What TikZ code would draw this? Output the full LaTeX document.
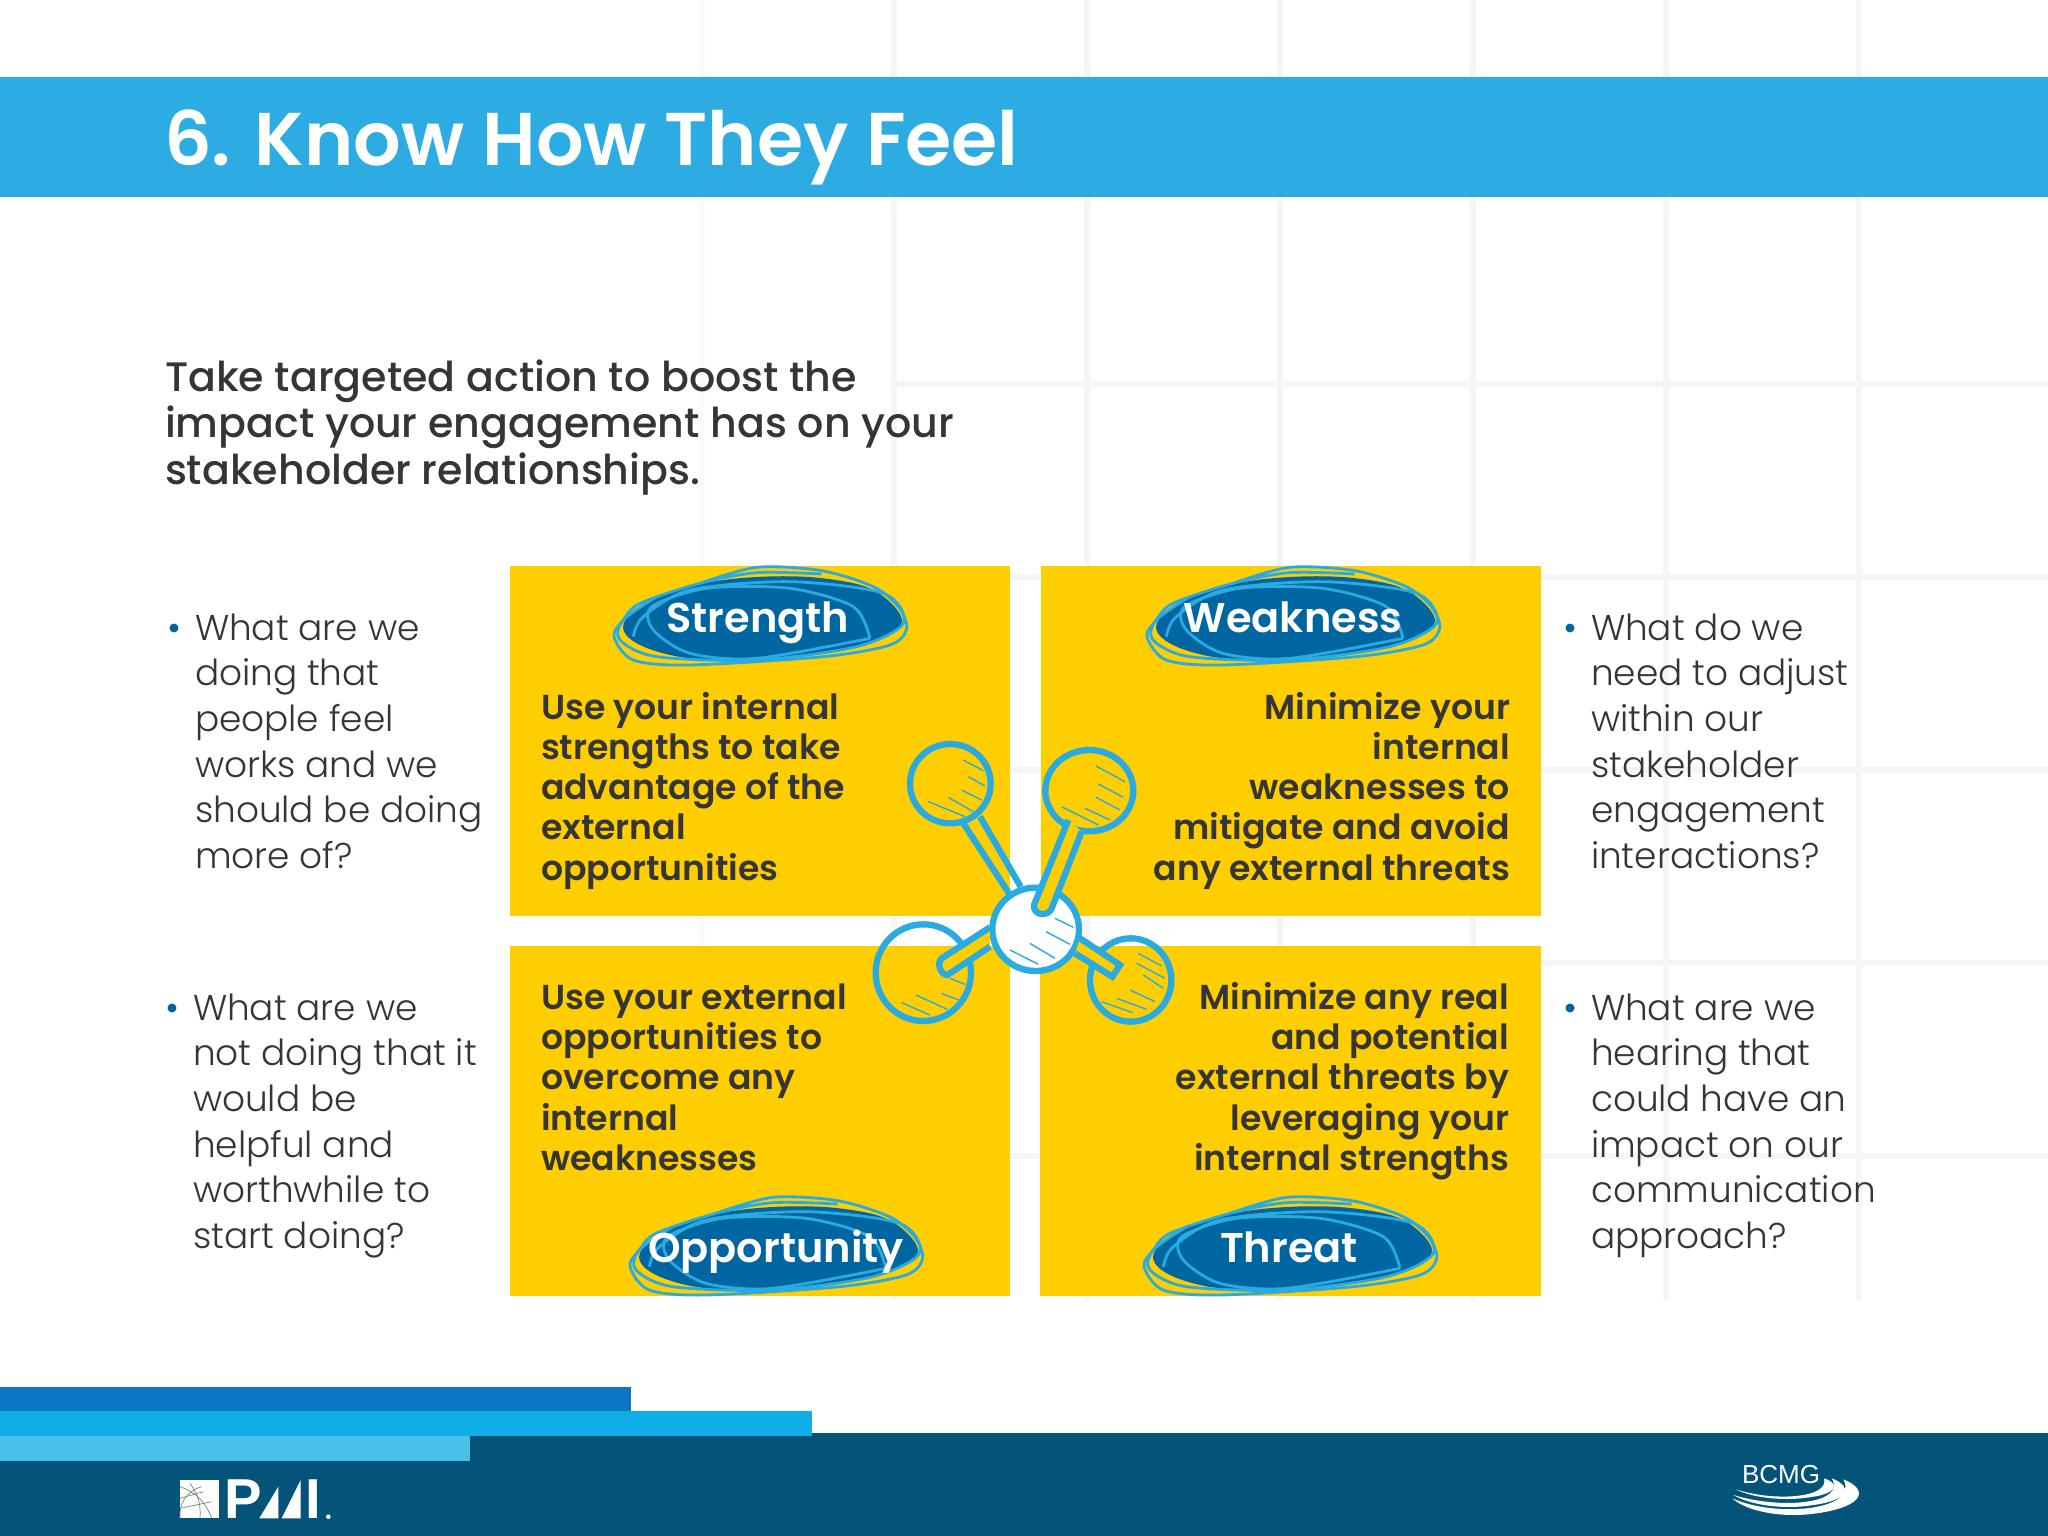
\documentclass[tikz,border=0pt]{standalone}
\usepackage{fontspec}
\setmainfont{Poppins Light}
\newfontfamily\mediumfont{Poppins Medium}
\newfontfamily\semifont{Poppins SemiBold}
\setsansfont{Liberation Sans}
\usetikzlibrary{arrows,positioning}
\definecolor{bandblue}{HTML}{2DABE3}
\definecolor{footblue}{HTML}{04547A}
\definecolor{barone}{HTML}{0A76C4}
\definecolor{bartwo}{HTML}{0EAEE6}
\definecolor{barthree}{HTML}{4AC0E8}
\definecolor{boxyellow}{HTML}{FFCE00}
\definecolor{inkblue}{HTML}{29ABE2}
\definecolor{blobblue}{HTML}{0066A1}
\definecolor{gridgrey}{HTML}{F3F5F8}
\definecolor{textgrey}{HTML}{353535}
\tikzset{every node/.append style={inner sep=0pt,outer sep=0pt}}
\tikzset{gridline/.style={gridgrey,line width=1.6pt}}
\tikzset{bodytext/.style={anchor=base west,align=left,text=textgrey,font=\fontsize{10.2}{12.94}\selectfont}}
\tikzset{boxleft/.style={anchor=base west,align=left,text=textgrey,font=\semifont\fontsize{9.85}{11.38}\selectfont}}
\tikzset{boxright/.style={anchor=base east,align=right,text=textgrey,font=\semifont\fontsize{9.85}{11.38}\selectfont}}
\tikzset{badgetext/.style={anchor=base,text=white,font=\semifont\fontsize{11.8}{14}\selectfont}}
\tikzset{dotmark/.style={fill=blobblue,circle,minimum size=9pt*.2845}}
\tikzset{atom/.style={draw=inkblue,line width=1.8pt}}
\tikzset{hatch/.style={draw=inkblue,line width=.4pt}}
\tikzset{scribble/.style={draw=inkblue,line width=.8pt}}

\newcommand{\drawbadge}[2]{%
  \begin{scope}[shift={(#1,#2)},scale=1/3]
    \fill[blobblue] plot[smooth cycle,tension=.6] coordinates
      {(100,225) (180,150) (340,100) (520,80) (700,85) (850,120) (935,205)
       (880,260) (700,310) (500,325) (300,325) (150,285)};
    \draw[scribble] plot[smooth,tension=.5] coordinates
      {(695,72) (500,68) (330,100) (150,160) (100,210) (72,260) (130,330) (300,345)
       (700,320) (900,285) (950,235) (925,170) (850,110) (695,62) (500,52) (330,100)};
    \draw[scribble] plot[smooth,tension=.5] coordinates
      {(840,265) (790,170) (600,115) (350,115) (185,170) (190,240) (300,310) (500,325) (840,265)};
    \draw[scribble] plot[smooth,tension=.5] coordinates
      {(130,260) (160,200) (300,120) (600,95) (880,130) (940,220) (800,290)
       (500,330) (200,320) (90,270) (100,210) (200,140)};
  \end{scope}}

\begin{document}
\begin{tikzpicture}[x=.01cm,y=-.01cm]
  \useasboundingbox (0,0) rectangle (2048,1536);
  \fill[white] (0,0) rectangle (2048,1536);

  % faint grid behind everything
  \draw[gridgrey!45,line width=1.6pt] (702,0) -- (702,1300);
  \foreach \gx in {894,1087,1280,1473,1666,1859}
    \draw[gridline] (\gx,0) -- (\gx,1300);
  \foreach \gy in {384,577,770,963,1156}
    \draw[gridline] (890,\gy) -- (2048,\gy);

  % header and footer
  \fill[bandblue] (0,77) rectangle (2048,197);
  \fill[footblue] (0,1433) rectangle (2048,1536);
  \fill[barone] (0,1387) rectangle (631,1411);
  \fill[bartwo] (0,1411) rectangle (812,1436);
  \fill[barthree] (0,1436) rectangle (470,1461);

  \node[anchor=base west,text=white,font=\semifont\fontsize{21.25}{24}\selectfont] (title) at (164,165) {6. Know How They Feel};
  \node[anchor=base west,align=left,text=textgrey,font=\mediumfont\fontsize{11.7}{13.09}\selectfont] (lead) at (165,484)
    {Take targeted action to boost the\\impact your engagement has on your\\stakeholder relationships.};

  % the four boxes
  \fill[boxyellow] (510,566) rectangle (1010,916);
  \fill[boxyellow] (1041,566) rectangle (1541,916);
  \fill[boxyellow] (510,946) rectangle (1010,1296);
  \fill[boxyellow] (1040,946) rectangle (1541,1296);

  \drawbadge{590}{550}
  \drawbadge{1123}{550}
  \drawbadge{606}{1180}
  \drawbadge{1120}{1180}

  \node[badgetext] (strength) at (758,632) {Strength};
  \node[badgetext] (weakness) at (1293,632) {Weakness};
  \node[badgetext] (opportunity) at (776,1262) {Opportunity};
  \node[badgetext] (threat) at (1289,1262) {Threat};

  \node[boxleft] (strengthtext) at (541,880)
    {Use your internal\\strengths to take\\advantage of the\\external\\opportunities};
  \node[boxright] (weaknesstext) at (1510,880)
    {Minimize your\\internal\\weaknesses to\\mitigate and avoid\\any external threats};
  \node[boxleft] (opportunitytext) at (541,1170)
    {Use your external\\opportunities to\\overcome any\\internal\\weaknesses};
  \node[boxright] (threattext) at (1509,1170)
    {Minimize any real\\and potential\\external threats by\\leveraging your\\internal strengths};

  % side questions
  \node[dotmark] (dotnw) at (174,628) {};
  \node[bodytext] (asknw) at (195,868)
    {What are we\\doing that\\people feel\\works and we\\should be doing\\more of?};
  \node[dotmark] (dotsw) at (172,1008) {};
  \node[bodytext] (asksw) at (193,1248)
    {What are we\\not doing that it\\would be\\helpful and\\worthwhile to\\start doing?};
  \node[dotmark] (dotne) at (1570,628) {};
  \node[bodytext] (askne) at (1591,868)
    {What do we\\need to adjust\\within our\\stakeholder\\engagement\\interactions?};
  \node[dotmark] (dotse) at (1570,1008) {};
  \node[bodytext] (askse) at (1591,1248)
    {What are we\\hearing that\\could have an\\impact on our\\communication\\approach?};

  % molecule
  \begin{scope}[shift={(860,720)},scale=1/3]
    \draw[atom] (271,191) ellipse (121 and 119);
    \draw[atom] (688,212) ellipse (132 and 122);
    \draw[atom] (190,758) ellipse (143 and 145);
    \draw[atom] (812,780) ellipse (122 and 125);
    \draw[atom] (310,310) -- (447,520);
    \draw[atom] (360,290) -- (482,500);
    \draw[atom,fill=white] (527,628) ellipse (130 and 125);
    \draw[atom,fill=boxyellow] (625,300) -- (522,555) to[out=260,in=180] (545,582) to[out=0,in=250] (575,565) -- (665,335);
    \draw[atom,fill=boxyellow] (390,622) -- (245,715) to[out=220,in=180] (262,765) -- (390,680);
    \draw[atom,fill=boxyellow] (660,655) -- (780,735) -- (757,770) -- (645,700);
    \foreach \ax/\ay/\bx/\by in {310/120/370/152,325/170/375/198,305/210/365/240,265/232/340/275,205/245/315/290,
      708/138/795/185,715/192/790/232,708/232/780/270,675/265/750/300,605/260/715/315,
      270/775/315/793,245/820/295/840,168/825/262/868,125/848/210/885,
      835/700/905/738,830/730/915/775,850/765/910/805,810/810/885/845,770/835/860/868,725/845/818/878,
      585/595/640/622,558/635/630/673,510/670/585/715,450/690/535/733}
      \draw[hatch] (\ax,\ay) -- (\bx,\by);
  \end{scope}

  % PMI logo
  \begin{scope}[shift={(170,1470)},scale=1/3]
    \fill[white] (30,30) rectangle (147,145);
    \draw[gray,line width=.2pt] (30,50) to[bend left=25] (125,145);
    \draw[gray,line width=.2pt] (30,85) -- (100,65) (30,115) -- (125,95);
    \draw[gray,line width=.2pt] (60,40) to[bend left=20] (90,145);
    \draw[gray,line width=.2pt] (30,145) to[bend left=40] (95,50);
    \fill[white] (268,145) -- (325,145) -- (325,50) -- cycle;
    \fill[white] (335,145) -- (392,145) -- (392,30) -- cycle;
    \fill[white] (475,140) circle (7);
  \end{scope}
  \node[anchor=base west,text=white,font=\sffamily\fontsize{16}{16}\selectfont\bfseries] (pmip) at (224,1518) {P};
  \node[anchor=base west,text=white,font=\sffamily\fontsize{16}{16}\selectfont\bfseries] (pmii) at (305,1518) {I};

  % BCMG logo
  \node[anchor=base west,text=white,font=\sffamily\fontsize{7.4}{8}\selectfont] (bcmg) at (1742,1483) {BCMG};
  \begin{scope}[shift={(1700,1430)},scale=1/3]
    \fill[white] (108,178) .. controls (220,215) and (390,205) .. (372,145) .. controls (420,160) and (410,190) .. (340,200) .. controls (260,215) and (160,205) .. cycle;
    \fill[white] (100,195) .. controls (250,240) and (440,220) .. (395,145) .. controls (460,170) and (450,210) .. (340,225) .. controls (250,240) and (150,225) .. cycle;
    \fill[white] (97,205) .. controls (230,265) and (480,240) .. (430,148) .. controls (510,180) and (490,230) .. (350,250) .. controls (250,265) and (140,245) .. cycle;
  \end{scope}
\end{tikzpicture}
\end{document}
